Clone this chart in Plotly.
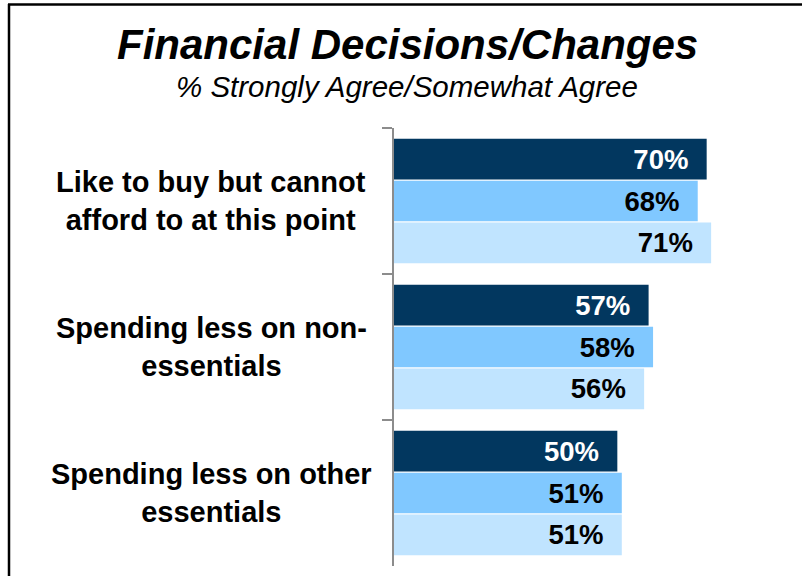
import plotly.graph_objects as go

categories = [
    "Like to buy but cannot<br>afford to at this point",
    "Spending less on non-<br>essentials",
    "Spending less on other<br>essentials",
]
series_names = ["Wave 1", "Wave 2", "Wave 3"]
series_values = [
    [70, 57, 50],
    [68, 58, 51],
    [71, 56, 51],
]
series_colors = ["#02375F", "#80C8FF", "#C0E4FF"]
text_colors = ["#FFFFFF", "#000000", "#000000"]

title_text = "Financial Decisions/Changes"
subtitle_text = "% Strongly Agree/Somewhat Agree"

W, H = 802, 576
L, R, T, B = 394, 796, 128, 566
FONT = "Liberation Sans, Arial, Helvetica, sans-serif"


def px2x(px):
    return (px - L) / (R - L)


def px2y(py):
    return (B - py) / (B - T)


fig = go.Figure()
for name, vals, col, tcol in zip(series_names, series_values, series_colors, text_colors):
    fig.add_trace(go.Bar(
        y=categories,
        x=vals,
        name=name,
        orientation="h",
        marker=dict(color=col, line=dict(width=0)),
        text=[f"{v}%\u00a0\u00a0" for v in vals],
        textposition="inside",
        insidetextanchor="end",
        insidetextfont=dict(family=FONT, size=27.5, color=tcol, weight="bold"),
        textangle=0,
        cliponaxis=False,
        hoverinfo="skip",
    ))

annotations = []
for cat in categories:
    annotations.append(dict(
        xref="paper", yref="y", x=px2x(211), y=cat,
        text=f"<b>{cat}</b>", showarrow=False,
        xanchor="center", yanchor="middle", align="center",
        font=dict(family=FONT, size=29, color="#000000"),
    ))
annotations.append(dict(
    xref="paper", yref="paper", x=px2x(407), y=px2y(45),
    text=f"<b><i>{title_text}</i></b>", showarrow=False,
    xanchor="center", yanchor="middle",
    font=dict(family=FONT, size=42, color="#000000"),
))
annotations.append(dict(
    xref="paper", yref="paper", x=px2x(407), y=px2y(87),
    text=f"<i>{subtitle_text}</i>", showarrow=False,
    xanchor="center", yanchor="middle",
    font=dict(family=FONT, size=29.5, color="#000000"),
))

shapes = [
    dict(type="line", xref="paper", yref="paper",
         x0=px2x(9), x1=px2x(9), y0=px2y(4), y1=px2y(590),
         line=dict(color="#000000", width=2.5)),
    dict(type="line", xref="paper", yref="paper",
         x0=px2x(8), x1=px2x(820), y0=px2y(4.5), y1=px2y(4.5),
         line=dict(color="#000000", width=2.5)),
]

fig.update_layout(
    width=W, height=H,
    margin=dict(l=L, r=W - R, t=T, b=H - B, pad=0),
    paper_bgcolor="#FFFFFF", plot_bgcolor="#FFFFFF",
    barmode="group", bargap=0.14, bargroupgap=0.03,
    showlegend=False,
    annotations=annotations,
    shapes=shapes,
    xaxis=dict(range=[0, 90], visible=False, fixedrange=True),
    yaxis=dict(
        autorange="reversed",
        showline=True, linecolor="#8C8C8C", linewidth=2,
        ticks="outside", ticklen=10, tickcolor="#8C8C8C", tickwidth=2,
        tickson="boundaries", showticklabels=False,
        showgrid=False, zeroline=False, fixedrange=True,
    ),
    font=dict(family=FONT),
)

fig.write_html(
    "out.html",
    config={"displayModeBar": False, "staticPlot": True},
    post_script="document.body.style.margin='0';document.body.style.padding='0';document.body.style.overflow='hidden';",
)
